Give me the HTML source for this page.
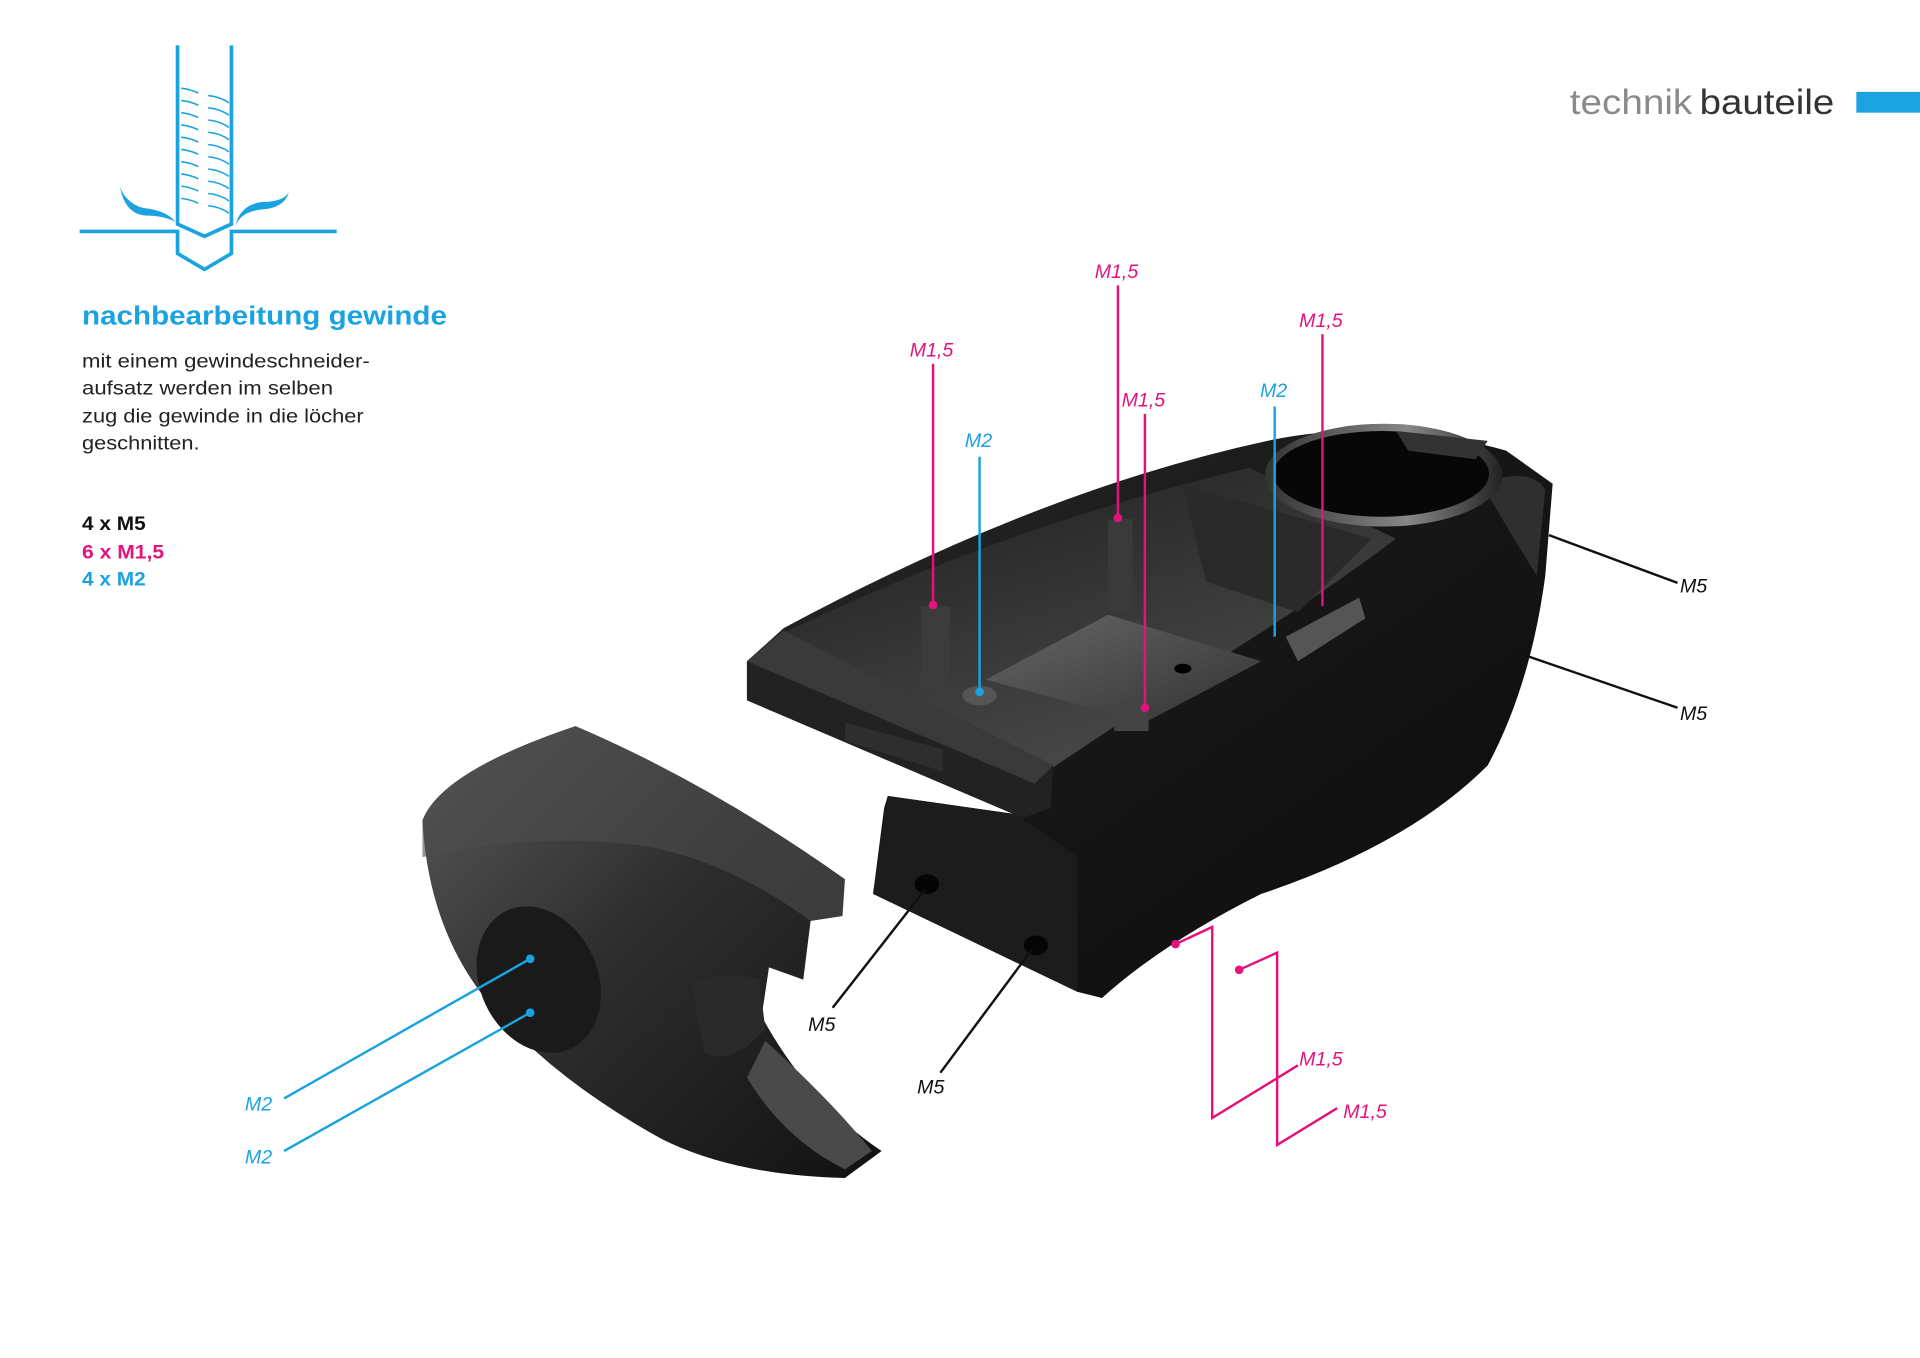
<!DOCTYPE html>
<html><head><meta charset="utf-8"><style>
html,body{margin:0;padding:0;background:#fff;width:1920px;height:1358px;overflow:hidden}
svg{display:block}
text{font-family:"Liberation Sans",sans-serif}
.lab{font-style:italic;font-size:16px}
</style></head><body>
<svg width="1920" height="1358" viewBox="0 0 1568 1109" xmlns="http://www.w3.org/2000/svg">
<defs>
<linearGradient id="body" x1="0" y1="0" x2="1" y2="1">
<stop offset="0" stop-color="#2a2a2a"/><stop offset="0.5" stop-color="#161616"/><stop offset="1" stop-color="#0c0c0c"/></linearGradient>
<linearGradient id="tray" x1="0" y1="0" x2="0.6" y2="1">
<stop offset="0" stop-color="#1e1e1e"/><stop offset="1" stop-color="#4a4a4a"/></linearGradient>
<linearGradient id="floor" x1="0" y1="0" x2="1" y2="1">
<stop offset="0" stop-color="#666"/><stop offset="1" stop-color="#333"/></linearGradient>
<linearGradient id="cover" x1="0" y1="0" x2="1" y2="1">
<stop offset="0" stop-color="#5a5a5a"/><stop offset="0.45" stop-color="#2e2e2e"/><stop offset="1" stop-color="#111"/></linearGradient>
<linearGradient id="rim" x1="0" y1="0" x2="1" y2="0">
<stop offset="0" stop-color="#333"/><stop offset="0.6" stop-color="#888"/><stop offset="1" stop-color="#222"/></linearGradient>
</defs>

<!-- header -->
<text x="1282" y="93" font-size="29" fill="#8a8a8a" textLength="100" lengthAdjust="spacingAndGlyphs">technik</text>
<text x="1388" y="93" font-size="29" fill="#333" textLength="110" lengthAdjust="spacingAndGlyphs">bauteile</text>
<rect x="1516" y="75" width="52" height="17" fill="#1aa3e0"/>

<!-- icon -->
<g stroke="#1aa3e0" stroke-width="3" fill="none">
<path d="M145 37 V183 L167 193 L189 183 V37"/>
<path d="M65 189 H145 V207 L167 220 L189 207 V189 H275"/>
</g>
<g stroke="#1aa3e0" stroke-width="1.3" fill="none">
<path d="M148 72 q8 1 14 4 M148 82 q8 1 14 4 M148 92 q8 1 14 4 M148 102 q8 1 14 4 M148 112 q8 1 14 4 M148 122 q8 1 14 4 M148 132 q8 1 14 4 M148 142 q8 1 14 4 M148 152 q8 1 14 4 M148 162 q8 1 14 4"/>
<path d="M170 78 q10 1 17 6 M170 88 q10 1 17 6 M170 98 q10 1 17 6 M170 108 q10 1 17 6 M170 118 q10 1 17 6 M170 128 q10 1 17 6 M170 138 q10 1 17 6 M170 148 q10 1 17 6 M170 158 q10 1 17 6 M170 168 q10 1 17 6"/>
</g>
<path d="M98 153 q6 14 20 17 q18 2 25 11 q-10 -5 -25 -5 q-16 -2 -20 -23z" fill="#1aa3e0"/>
<path d="M236 157 q-5 8 -22 8 q-18 2 -22 20 q4 -12 22 -14 q18 -1 22 -14z" fill="#1aa3e0"/>

<!-- left text -->
<text x="67" y="265" font-size="21.5" font-weight="bold" fill="#1aa3e0" textLength="298" lengthAdjust="spacingAndGlyphs">nachbearbeitung gewinde</text>
<g font-size="15.5" fill="#222">
<text x="67" y="300" textLength="235" lengthAdjust="spacingAndGlyphs">mit einem gewindeschneider-</text>
<text x="67" y="322" textLength="205" lengthAdjust="spacingAndGlyphs">aufsatz werden im selben</text>
<text x="67" y="345" textLength="230" lengthAdjust="spacingAndGlyphs">zug die gewinde in die löcher</text>
<text x="67" y="367" textLength="96" lengthAdjust="spacingAndGlyphs">geschnitten.</text>
</g>
<g font-size="15.5" font-weight="bold">
<text x="67" y="433" fill="#111" textLength="52" lengthAdjust="spacingAndGlyphs">4 x M5</text>
<text x="67" y="456" fill="#e4137b" textLength="67" lengthAdjust="spacingAndGlyphs">6 x M1,5</text>
<text x="67" y="478" fill="#1aa3e0" textLength="52" lengthAdjust="spacingAndGlyphs">4 x M2</text>
</g>

<!-- main body -->
<path d="M640 513 Q850 400 1035 360 Q1130 340 1230 368 L1268 395 L1262 470 Q1250 560 1215 625 Q1150 690 1030 730 Q950 770 900 815 L880 810 L713 730 L722 660 L725 650 L830 665 L610 570 L610 540 Z" fill="url(#body)"/>
<path d="M1210 395 Q1250 380 1262 400 L1255 470 Q1230 430 1210 395z" fill="#3a3a3a" opacity="0.7"/>
<!-- tray -->
<path d="M642 516 Q820 430 1020 382 L1140 440 Q1060 500 960 560 Q900 600 858 628 L645 540 Z" fill="url(#tray)"/>
<path d="M805 555 L905 502 L1030 540 L935 590 Z" fill="url(#floor)"/>
<path d="M965 395 L1120 440 L1060 500 L985 475 Z" fill="#2a2a2a"/>
<path d="M1050 520 L1110 488 L1115 505 L1060 540Z" fill="#555"/>
<!-- cup -->
<ellipse cx="1130" cy="388" rx="97" ry="42" fill="url(#rim)"/>
<ellipse cx="1128" cy="387" rx="88" ry="35" fill="#070707"/>
<path d="M1140 352 L1215 360 L1205 375 L1150 368Z" fill="#333"/>
<!-- posts -->
<rect x="752" y="495" width="24" height="70" fill="#3c3c3c"/>
<rect x="905" y="424" width="20" height="75" fill="#3a3a3a"/>
<rect x="910" y="575" width="28" height="22" fill="#444"/>
<ellipse cx="800" cy="568" rx="14" ry="8" fill="#555"/>
<ellipse cx="966" cy="546" rx="7" ry="4" fill="#000"/>
<!-- rail -->
<path d="M610 540 L640 515 L860 625 L858 660 L835 668 L610 572 Z" fill="#222"/>
<path d="M610 540 L640 515 L860 625 L845 640 Z" fill="#3a3a3a"/>
<path d="M690 590 L770 612 L770 630 L690 605Z" fill="#2e2e2e"/>
<!-- lower front -->
<path d="M713 730 L725 650 L830 665 L880 700 L880 810 Z" fill="#1c1c1c"/>
<ellipse cx="757" cy="722" rx="10" ry="8" fill="#050505"/>
<ellipse cx="846" cy="772" rx="10" ry="8" fill="#050505"/>

<!-- cover piece -->
<path d="M345 670 Q360 630 470 593 Q580 640 690 718 L688 748 L662 752 L656 800 L628 790 L622 830 Q660 900 720 940 L690 962 Q600 960 540 930 Q450 880 400 820 Q350 760 345 670 Z" fill="url(#cover)"/>
<path d="M345 670 Q360 630 470 593 Q580 640 690 718 L688 748 L662 752 Q590 700 520 690 Q430 680 345 700 Z" fill="#4c4c4c" opacity="0.6"/>
<ellipse cx="440" cy="800" rx="48" ry="62" fill="#1a1a1a" transform="rotate(-25 440 800)"/>
<path d="M565 805 Q590 790 620 800 L625 840 Q600 870 575 860 Z" fill="#2a2a2a"/>
<path d="M625 850 Q680 900 712 940 L690 955 Q640 930 610 880 Z" fill="#4a4a4a"/>

<!-- magenta leaders -->
<g stroke="#e4137b" stroke-width="2" fill="none">
<path d="M762 297 V494"/><path d="M913 233 V423"/><path d="M935 338 V578"/><path d="M1080 273 V495"/>
<path d="M960 771 L990 757 V913 L1060 870"/>
<path d="M1012 792 L1043 778 V935 L1092 905"/>
</g>
<g fill="#e4137b">
<circle cx="762" cy="494" r="3.5"/><circle cx="913" cy="423" r="3.5"/><circle cx="935" cy="578" r="3.5"/>
<circle cx="960" cy="771" r="3.5"/><circle cx="1012" cy="792" r="3.5"/>
</g>
<g class="lab" fill="#e4137b">
<text x="743" y="291">M1,5</text><text x="894" y="227">M1,5</text><text x="916" y="332">M1,5</text>
<text x="1061" y="267">M1,5</text><text x="1061" y="870">M1,5</text><text x="1097" y="913">M1,5</text>
</g>
<!-- blue leaders -->
<g stroke="#1aa3e0" stroke-width="2" fill="none">
<path d="M800 373 V565"/><path d="M1041 332 V520"/>
<path d="M232 897 L433 783"/><path d="M232 940 L433 827"/>
</g>
<g fill="#1aa3e0"><circle cx="800" cy="565" r="3.5"/><circle cx="433" cy="783" r="3.5"/><circle cx="433" cy="827" r="3.5"/></g>
<g class="lab" fill="#1aa3e0">
<text x="788" y="365">M2</text><text x="1029" y="324">M2</text><text x="200" y="907">M2</text><text x="200" y="950">M2</text>
</g>
<!-- black leaders -->
<g stroke="#111" stroke-width="2" fill="none">
<path d="M1265 437 L1370 476"/><path d="M1245 535 L1370 578"/>
<path d="M680 823 L755 727"/><path d="M768 876 L843 775"/>
</g>
<g class="lab" fill="#111">
<text x="1372" y="484">M5</text><text x="1372" y="588">M5</text><text x="660" y="842">M5</text><text x="749" y="893">M5</text>
</g>
</svg>
</body></html>
